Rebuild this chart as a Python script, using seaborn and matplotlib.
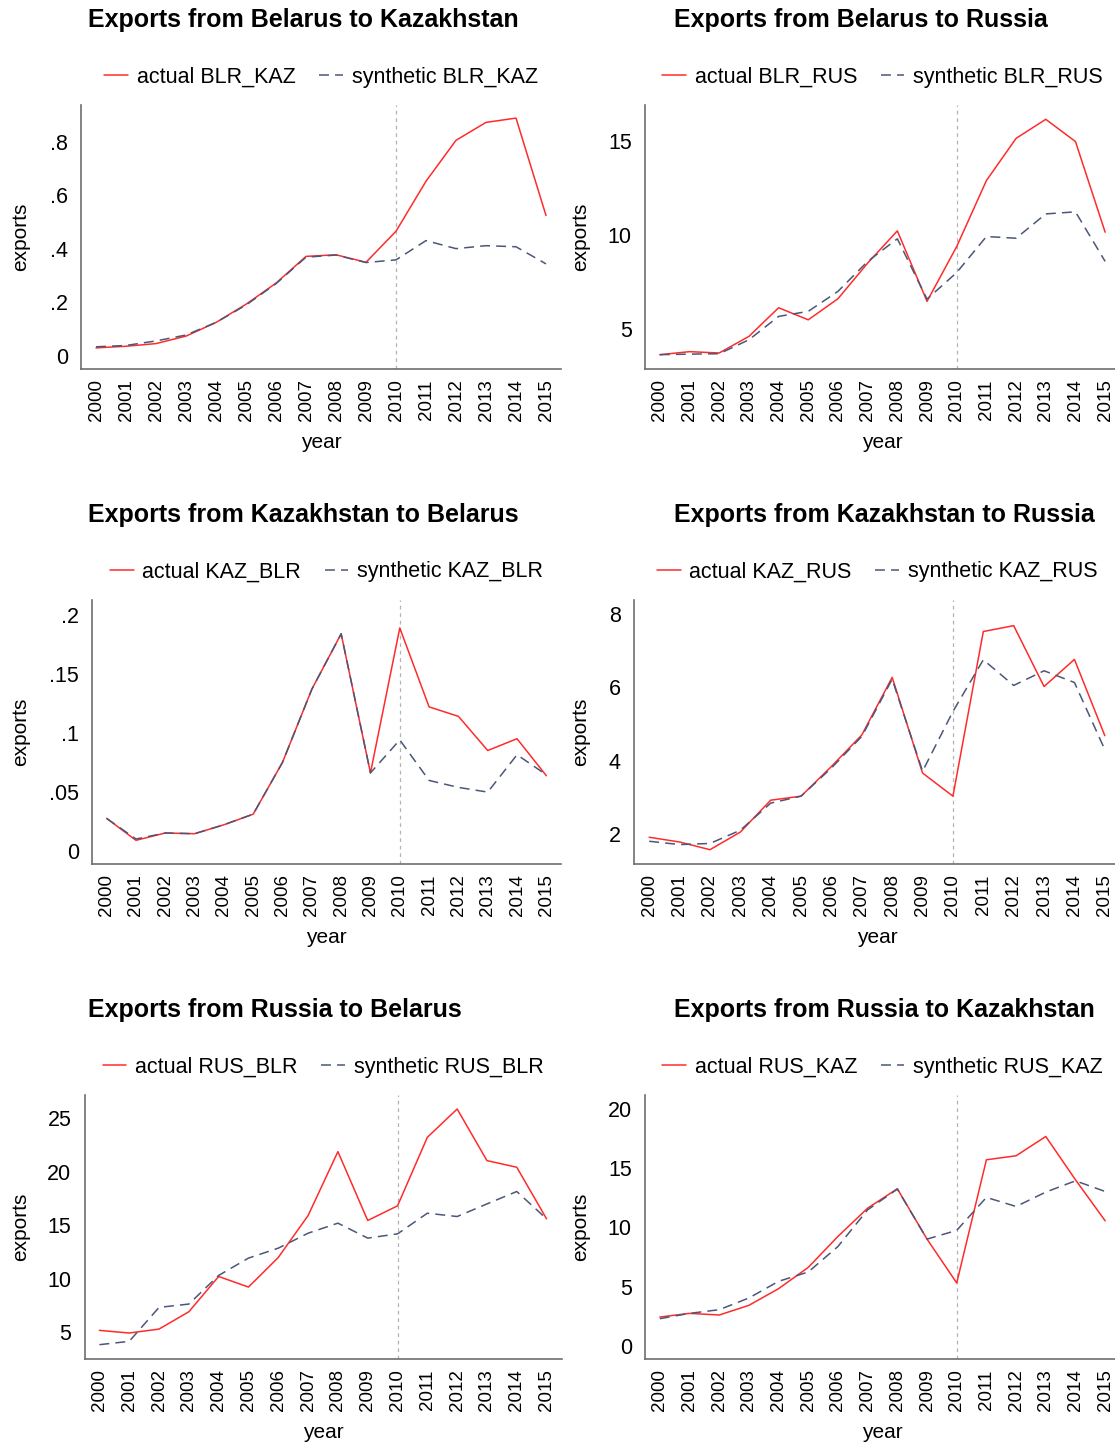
import matplotlib
matplotlib.use("Agg")
import matplotlib.pyplot as plt
import numpy as np
import pandas as pd
import seaborn as sns

# ---------------- data ----------------
years = list(range(2000, 2016))

actual_BLR_KAZ = [0.030, 0.036, 0.046, 0.074, 0.125, 0.193, 0.272, 0.372, 0.378, 0.350,
                  0.466, 0.653, 0.806, 0.873, 0.889, 0.525]
synthetic_BLR_KAZ = [0.034, 0.039, 0.056, 0.078, 0.125, 0.190, 0.270, 0.369, 0.377, 0.349,
                     0.359, 0.431, 0.401, 0.412, 0.408, 0.344]

actual_BLR_RUS = [3.64, 3.80, 3.73, 4.61, 6.13, 5.49, 6.61, 8.50, 10.21, 6.47,
                  9.38, 12.88, 15.12, 16.13, 14.95, 10.14]
synthetic_BLR_RUS = [3.64, 3.67, 3.69, 4.43, 5.67, 5.94, 7.00, 8.59, 9.79, 6.59,
                     8.00, 9.91, 9.82, 11.11, 11.22, 8.59]

actual_KAZ_BLR = [0.0274, 0.0088, 0.0150, 0.0144, 0.0220, 0.0310, 0.0750, 0.1370, 0.1840, 0.0660,
                  0.1890, 0.1220, 0.1140, 0.0850, 0.0950, 0.0636]
synthetic_KAZ_BLR = [0.0274, 0.0099, 0.0150, 0.0144, 0.0220, 0.0310, 0.0750, 0.1370, 0.1840, 0.0660,
                     0.0940, 0.0596, 0.0537, 0.0497, 0.0814, 0.0644]

actual_KAZ_RUS = [1.91, 1.78, 1.57, 2.05, 2.92, 3.03, 3.84, 4.70, 6.27, 3.66,
                  3.03, 7.52, 7.68, 6.02, 6.76, 4.68]
synthetic_KAZ_RUS = [1.80, 1.71, 1.74, 2.10, 2.84, 3.03, 3.80, 4.66, 6.22, 3.71,
                     5.34, 6.75, 6.05, 6.45, 6.13, 4.30]

actual_RUS_BLR = [5.16, 4.91, 5.28, 6.90, 10.20, 9.21, 11.98, 15.90, 21.88, 15.44,
                  16.81, 23.22, 25.87, 21.04, 20.42, 15.59]
synthetic_RUS_BLR = [3.82, 4.13, 7.31, 7.62, 10.30, 11.92, 12.85, 14.25, 15.19, 13.79,
                     14.19, 16.12, 15.81, 16.99, 18.15, 15.59]

actual_RUS_KAZ = [2.42, 2.73, 2.59, 3.41, 4.82, 6.62, 9.24, 11.63, 13.27, 9.01,
                  5.30, 15.72, 16.06, 17.69, 14.03, 10.56]
synthetic_RUS_KAZ = [2.28, 2.73, 3.04, 4.03, 5.44, 6.23, 8.39, 11.49, 13.24, 9.01,
                     9.75, 12.54, 11.77, 12.99, 13.94, 13.04]

titles = ["Exports from Belarus to Kazakhstan", "Exports from Belarus to Russia",
          "Exports from Kazakhstan to Belarus", "Exports from Kazakhstan to Russia",
          "Exports from Russia to Belarus", "Exports from Russia to Kazakhstan"]
codes = ["BLR_KAZ", "BLR_RUS", "KAZ_BLR", "KAZ_RUS", "RUS_BLR", "RUS_KAZ"]
actuals = [actual_BLR_KAZ, actual_BLR_RUS, actual_KAZ_BLR, actual_KAZ_RUS, actual_RUS_BLR, actual_RUS_KAZ]
synthetics = [synthetic_BLR_KAZ, synthetic_BLR_RUS, synthetic_KAZ_BLR, synthetic_KAZ_RUS,
              synthetic_RUS_BLR, synthetic_RUS_KAZ]

yticks = [[0, 0.2, 0.4, 0.6, 0.8], [5, 10, 15], [0, 0.05, 0.1, 0.15, 0.2],
          [2, 4, 6, 8], [5, 10, 15, 20, 25], [0, 5, 10, 15, 20]]
yticklabels = [["0", ".2", ".4", ".6", ".8"], ["5", "10", "15"], ["0", ".05", ".1", ".15", ".2"],
               ["2", "4", "6", "8"], ["5", "10", "15", "20", "25"], ["0", "5", "10", "15", "20"]]
ylims = [(-0.049, 0.938), (2.88, 16.89), (-0.0113, 0.2127),
         (1.18, 8.38), (2.48, 27.18), (-1.13, 21.2)]

# ---------------- layout (pixels) ----------------
W, H = 1115, 1450
# left, top, width, height
boxes = [(81, 105, 480, 264), (645, 105, 475, 264),
         (92, 600, 469, 264), (634, 600, 486, 264),
         (84.5, 1095, 477, 264), (645, 1095, 475, 264)]
title_x = [88, 674, 88, 674, 88, 674]
title_y = [20, 20, 515, 515, 1010, 1010]
ylabel_right = [30, 590, 30, 590, 30, 590]

RED = "#ff2b2b"
NAVY = "#4b5778"

sns.set_style("white")
plt.rcParams["font.family"] = ["Liberation Sans", "DejaVu Sans"]
plt.rcParams["text.color"] = "black"
plt.rcParams["axes.labelcolor"] = "black"
plt.rcParams["xtick.color"] = "black"
plt.rcParams["ytick.color"] = "black"

fig = plt.figure(figsize=(W / 100, H / 100), dpi=100)

for i in range(6):
    l, t, w, h = boxes[i]
    ax = fig.add_axes([l / W, 1 - (t + h) / H, w / W, h / H])
    code = codes[i]
    df = pd.DataFrame({
        "year": years + years,
        "exports": actuals[i] + synthetics[i],
        "series": [f"actual {code}"] * len(years) + [f"synthetic {code}"] * len(years),
    })
    sns.lineplot(data=df, x="year", y="exports", hue="series", style="series",
                 palette=[RED, NAVY], dashes=["", (6.5, 4)], linewidth=1.1, ax=ax)
    ax.axvline(2010, color="#b4b4b4", lw=0.9, ls=(0, (3, 3)), zorder=0)
    ax.set_xlim(1999.5, 2015.5)
    ax.set_ylim(*ylims[i])
    ax.set_xticks(years)
    ax.set_xticklabels([str(y) for y in years], rotation=90, fontsize=13.5)
    ax.set_yticks(yticks[i])
    ax.set_yticklabels(yticklabels[i], fontsize=15.5)
    ax.tick_params(axis="y", length=0, pad=9.5, colors="black")
    ax.tick_params(axis="x", length=0, pad=7.5, colors="black")
    sns.despine(ax=ax)
    for s in ("left", "bottom"):
        ax.spines[s].set_color("#6e6e6e")
        ax.spines[s].set_linewidth(1.2)
    ax.set_ylabel("exports", fontsize=15, color="black")
    ax.yaxis.set_label_coords((ylabel_right[i] - l) / w, 0.5)
    ax.set_xlabel("year", fontsize=15, va="top", color="black")
    ax.xaxis.set_label_coords(0.5, -64 / h)
    handles, labels = ax.get_legend_handles_labels()
    ax.legend(handles, labels, loc="center", bbox_to_anchor=(0.5, 1 + 28 / h),
              ncol=2, frameon=False, fontsize=15.5, handlelength=1.1,
              handletextpad=0.4, columnspacing=1.1, labelcolor="black")
    fig.text(title_x[i] / W, 1 - title_y[i] / H, titles[i], ha="left", va="center",
             fontsize=18, fontweight="bold", color="black")

fig.savefig("out.png", dpi=100)
